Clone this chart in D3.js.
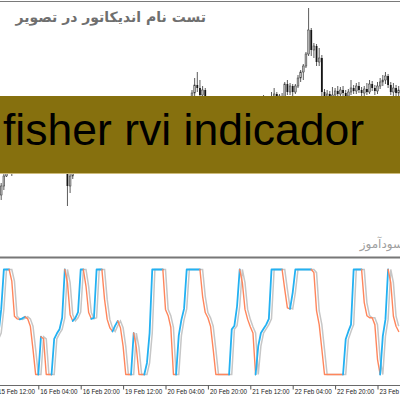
<!DOCTYPE html>
<html>
<head>
<meta charset="utf-8">
<script src="https://cdn.jsdelivr.net/npm/d3@7"></script>
<style>
    body { margin: 0; background: #fff; }
    svg { display: block; }
</style>
</head>
<body>
<div id="chart"></div>
<script>
// hourly candles, 15 Feb 12:00 .. 23 Feb 20:00 (weekend skipped)
const openPrices = [
    1918,1910,1905,1914,1924,1935,1942,1934,1940,1950,
    1953,1946,1949,1942,1937,1934,1931,1935,1941,1938,
    1933,1936,1942,1951,1960,1966,1972,1950,1914,1924,
    1932,1940,1946,1951,1956,1960,1963,1967,1971,1973,
    1969,1975,1980,1976,1982,1985,1981,1988,1990,1986,
    1992,1995,1991,1994,1998,1993,1996,2000,1997,2001,
    1996,2000,1995,1999,2002,1996,2000,1994,1997,2000,
    1995,1998,2000,2002,2000,2007,2015,2012,2005,2010,
    2002,1998,1992,1988,1982,1978,1974,1971,1975,1970,
    1973,1977,1981,1979,1984,1982,1986,1989,1987,1991,
    1994,1996,2000,1997,2000,2003,2006,2002,2004,2001,
    2016,2008,2014,2008,2014,2022,2028,2034,2046,2070,
    2050,2054,2038,2042,2008,2003,2006,2002,2005,2009,
    2006,2010,2007,2004,2008,2012,2009,2014,2010,2007,
    2011,2008,2016,2012,2009,2014,2018,2020,2024,2015,
    2008,2012,2007
];
const highPrices = [
    1922,1914,1917,1932,1939,1946,1945,1943,1954,1957,
    1956,1952,1951,1945,1940,1937,1939,1944,1945,1940,
    1939,1945,1955,1964,1970,1976,1974,1953,1928,1935,
    1943,1949,1954,1959,1963,1966,1970,1974,1977,1976,
    1978,1983,1983,1985,1988,1988,1991,1993,1993,1995,
    1998,1997,1997,2001,2000,1999,2003,2002,2003,2003,
    2002,2002,2001,2003,2003,2002,2001,2000,2002,2002,
    2001,2003,2004,2003,2010,2022,2028,2020,2014,2012,
    2003,2000,1995,1990,1985,1981,1977,1978,1977,1976,
    1980,1984,1984,1987,1987,1989,1992,1992,1994,1997,
    1999,2005,2002,2003,2008,2012,2008,2006,2007,2018,
    2020,2017,2016,2016,2025,2030,2036,2048,2092,2072,
    2057,2056,2052,2045,2011,2010,2009,2013,2012,2014,
    2013,2014,2010,2011,2020,2015,2017,2018,2013,2014,
    2017,2020,2019,2015,2018,2022,2025,2028,2026,2018,
    2017,2015,2014
];
const lowPrices = [
    1906,1898,1900,1910,1923,1930,1924,1930,1937,1947,
    1943,1942,1938,1934,1930,1928,1928,1932,1935,1929,
    1930,1933,1939,1948,1957,1963,1947,1894,1907,1921,
    1929,1937,1943,1948,1953,1957,1960,1964,1968,1966,
    1966,1972,1973,1974,1979,1978,1979,1985,1983,1984,
    1989,1988,1988,1991,1990,1990,1993,1994,1994,1993,
    1993,1992,1992,1996,1993,1993,1991,1991,1994,1992,
    1992,1995,1997,1996,1998,2004,2008,2003,2000,1996,
    1993,1989,1984,1979,1974,1970,1967,1968,1966,1967,
    1970,1974,1976,1976,1979,1979,1983,1984,1984,1988,
    1991,1993,1994,1994,1997,1999,1999,1999,1998,1999,
    2005,2005,2004,2006,2012,2018,2020,2032,2044,2044,
    2042,2034,2034,2004,1999,2000,1999,2000,2002,2003,
    2004,2003,2000,2001,2005,2006,2006,2007,2003,2004,
    2005,2006,2009,2005,2006,2011,2014,2016,2012,2005,
    2004,2003,2004
];
const closePrices = [
    1910,1905,1914,1924,1935,1942,1934,1940,1950,1953,
    1946,1949,1942,1937,1934,1931,1935,1941,1938,1933,
    1936,1942,1951,1960,1966,1972,1950,1914,1924,1932,
    1940,1946,1951,1956,1960,1963,1967,1971,1973,1969,
    1975,1980,1976,1982,1985,1981,1988,1990,1986,1992,
    1995,1991,1994,1998,1993,1996,2000,1997,2001,1996,
    2000,1995,1999,2002,1996,2000,1994,1997,2000,1995,
    1998,2000,2002,2000,2007,2015,2012,2005,2010,2002,
    1998,1992,1988,1982,1978,1974,1971,1975,1970,1973,
    1977,1981,1979,1984,1982,1986,1989,1987,1991,1994,
    1996,2000,1997,2000,2003,2006,2002,2004,2001,2016,
    2008,2014,2008,2014,2022,2028,2034,2046,2070,2050,
    2054,2038,2042,2008,2003,2006,2002,2005,2009,2006,
    2010,2007,2004,2008,2012,2009,2014,2010,2007,2011,
    2008,2016,2012,2009,2014,2018,2020,2024,2015,2008,
    2012,2007,2010
];

// fisher rvi main line and its signal
const fisherValues = [
    -0.33,-0.21,0.24,1,1,1,0.78,0.11,0.06,0.05,
    0.07,0.10,0.06,-0.08,-0.52,-1,-1,-0.28,-0.32,-1,
    -1,-1,-0.32,-0.22,-0.14,0.08,1,0.75,0.14,0.02,
    0.08,0.19,1,1,0.68,0.18,0.06,0.08,1,1,
    1,0.43,0.05,-0.11,-0.18,-0.07,0.02,-0.11,-0.46,-1,
    -1,-1,-0.21,-0.49,-1,-1,-1,-0.78,-0.21,1,
    1,1,1,1,0.24,0.12,-0.10,-1,-1,-0.26,
    0.04,0.25,1,1,1,1,1,1,0.49,0.18,
    0.08,-0.08,-0.52,-1,-1,-1,-1,-1,-1,-0.14,
    -0.07,0.30,1,0.75,0.24,0.05,-0.09,-0.21,-1,-0.46,
    -0.21,-0.13,-0.05,0.06,1,1,1,1,1,0.62,
    0.27,0.25,0.56,1,1,1,1,1,1,1,
    0.94,0.21,-0.05,-0.52,-1,-1,-1,-1,-1,-1,
    -1,-1,-0.33,-0.18,-0.05,1,1,1,1,0.37,
    0.12,0.08,0.08,-0.05,-0.71,-1,-0.27,0.05,1,0.75,
    0.11,-0.08,-0.18
];
const signalValues = [
    -0.45,-0.33,-0.21,0.24,1,1,1,0.78,0.11,0.06,
    0.05,0.07,0.10,0.06,-0.08,-0.52,-1,-1,-0.28,-0.32,
    -1,-1,-1,-0.32,-0.22,-0.14,0.08,1,0.75,0.14,
    0.02,0.08,0.19,1,1,0.68,0.18,0.06,0.08,1,
    1,1,0.43,0.05,-0.11,-0.18,-0.07,0.02,-0.11,-0.46,
    -1,-1,-1,-0.21,-0.49,-1,-1,-1,-0.78,-0.21,
    1,1,1,1,1,0.24,0.12,-0.10,-1,-1,
    -0.26,0.04,0.25,1,1,1,1,1,1,0.49,
    0.18,0.08,-0.08,-0.52,-1,-1,-1,-1,-1,-1,
    -0.14,-0.07,0.30,1,0.75,0.24,0.05,-0.09,-0.21,-1,
    -0.46,-0.21,-0.13,-0.05,0.06,1,1,1,1,1,
    0.62,0.27,0.25,0.56,1,1,1,1,1,1,
    1,0.94,0.21,-0.05,-0.52,-1,-1,-1,-1,-1,
    -1,-1,-1,-0.33,-0.18,-0.05,1,1,1,1,
    0.37,0.12,0.08,0.08,-0.05,-0.71,-1,-0.27,0.05,1,
    0.75,0.11,-0.08
];

const tickLabels = [
    '15 Feb 12:00', '16 Feb 04:00', '16 Feb 20:00', '19 Feb 12:00', '20 Feb 04:00',
    '20 Feb 20:00', '21 Feb 12:00', '22 Feb 04:00', '22 Feb 20:00', '23 Feb 12:00',
];

const bannerText = 'fisher rvi indicador';
const titleText = 'تست نام اندیکاتور در تصویر';
const watermarkText = 'سودآموز';

(function () {
    const width = 400, height = 400;
    const fmt = d3.utcFormat('%-d %b %H:%M');

    // bar times, one per hour, no saturday / sunday
    let barTimes = [];
    let t = Date.UTC(2024, 1, 15, 12);
    while (barTimes.length < closePrices.length) {
        let d = new Date(t);
        let wd = d.getUTCDay();
        if (wd !== 0 && wd !== 6) {
            barTimes.push(fmt(d));
        }
        t += 3600 * 1000;
    }

    let svg = d3.select('#chart')
                .append('svg')
                .attr('width', width)
                .attr('height', height)
                .attr('viewBox', `0 0 ${width} ${height}`);

    let defs = svg.append('defs');
    defs.append('clipPath').attr('id', 'clipTop')
        .append('rect').attr('x', 0).attr('y', 3).attr('width', width).attr('height', 253);
    defs.append('clipPath').attr('id', 'clipBottom')
        .append('rect').attr('x', 0).attr('y', 259).attr('width', width).attr('height', 126);

    let x = d3.scalePoint()
              .domain(barTimes)
              .range([-4.1, 398.7]);

    // price pane
    let yPrice = d3.scaleLinear()
                   .domain([1850, 2100])
                   .range([250, 0]);

    let candles = barTimes.map((time, i) => ({
        time: time,
        open: openPrices[i],
        high: highPrices[i],
        low: lowPrices[i],
        close: closePrices[i],
    }));

    let pricePane = svg.append('g').attr('clip-path', 'url(#clipTop)');

    pricePane.selectAll('.wick')
             .data(candles)
             .enter()
             .append('line')
             .attr('x1', d => x(d.time))
             .attr('x2', d => x(d.time))
             .attr('y1', d => yPrice(d.high))
             .attr('y2', d => yPrice(d.low))
             .attr('stroke', '#4a4a4a')
             .attr('stroke-width', 0.9);

    const bodyW = 1.8;
    pricePane.selectAll('.body')
             .data(candles)
             .enter()
             .append('rect')
             .attr('x', d => x(d.time) - bodyW / 2)
             .attr('y', d => yPrice(Math.max(d.open, d.close)))
             .attr('width', bodyW)
             .attr('height', d => Math.max(0.8, Math.abs(yPrice(d.open) - yPrice(d.close))))
             .attr('fill', d => d.close >= d.open ? '#b4b4b4' : '#151515')
             .attr('stroke', d => d.close >= d.open ? '#3a3a3a' : 'none')
             .attr('stroke-width', 0.5);

    // titles
    svg.append('text')
       .attr('x', 206)
       .attr('y', 22)
       .attr('text-anchor', 'end')
       .attr('font-family', 'DejaVu Sans, sans-serif')
       .attr('font-size', 14)
       .attr('font-weight', 'bold')
       .attr('fill', '#6f6f6f')
       .text(titleText);

    svg.append('text')
       .attr('x', 403)
       .attr('y', 248)
       .attr('text-anchor', 'end')
       .attr('font-family', 'DejaVu Sans, sans-serif')
       .attr('font-size', 12)
       .attr('fill', '#a0a0a0')
       .text(watermarkText);

    // banner
    svg.append('rect')
       .attr('x', 0)
       .attr('y', 96)
       .attr('width', width)
       .attr('height', 78)
       .attr('fill', '#86700e');
    svg.append('line')
       .attr('x1', 0).attr('x2', width)
       .attr('y1', 173.5).attr('y2', 173.5)
       .attr('stroke', '#cdbb7a')
       .attr('stroke-width', 1);
    svg.append('text')
       .attr('x', 3)
       .attr('y', 145)
       .attr('font-family', 'Liberation Sans, Arial, sans-serif')
       .attr('font-size', 44.5)
       .attr('fill', '#000')
       .text(bannerText);

    // borders
    svg.append('line')
       .attr('x1', 0).attr('x2', width)
       .attr('y1', 1.5).attr('y2', 1.5)
       .attr('stroke', '#7a7a7a')
       .attr('stroke-width', 1.2);
    svg.append('line')
       .attr('x1', 0).attr('x2', width)
       .attr('y1', 257.5).attr('y2', 257.5)
       .attr('stroke', '#777')
       .attr('stroke-width', 2.2);

    // indicator pane
    let yInd = d3.scaleLinear()
                 .domain([-1, 1])
                 .range([374.5, 269.5]);

    let indPane = svg.append('g').attr('clip-path', 'url(#clipBottom)');

    let line = d3.line()
                 .x(d => x(d.time))
                 .y(d => yInd(d.value));

    let signal = barTimes.map((time, i) => ({ time: time, value: signalValues[i] }));
    let fisher = barTimes.map((time, i) => ({ time: time, value: fisherValues[i] }));

    indPane.append('path')
           .datum(signal)
           .attr('d', line)
           .attr('fill', 'none')
           .attr('stroke', '#c6c6c6')
           .attr('stroke-width', 1.5);

    // split main line into rising (blue) and falling (orange) runs
    let runs = [];
    let colour = 'up';
    for (let i = 0; i < fisher.length - 1; i++) {
        let a = fisher[i].value, b = fisher[i + 1].value;
        if (b > a) colour = 'up';
        else if (b < a) colour = 'down';
        let last = runs[runs.length - 1];
        if (last && last.colour === colour) {
            last.points.push(fisher[i + 1]);
        } else {
            runs.push({ colour: colour, points: [fisher[i], fisher[i + 1]] });
        }
    }

    indPane.selectAll('.run')
           .data(runs)
           .enter()
           .append('path')
           .attr('d', d => line(d.points))
           .attr('fill', 'none')
           .attr('stroke', d => d.colour === 'up' ? '#23b1f2' : '#ff865c')
           .attr('stroke-width', d => d.colour === 'up' ? 1.8 : 1.4)
           .attr('stroke-linejoin', 'round')
           .attr('stroke-linecap', 'round');

    // time axis
    svg.append('line')
       .attr('x1', 0).attr('x2', width)
       .attr('y1', 385.5).attr('y2', 385.5)
       .attr('stroke', '#6a6a6a')
       .attr('stroke-width', 1);

    let axis = svg.append('g')
                  .attr('transform', 'translate(0, 385.5)')
                  .call(d3.axisBottom(x).tickValues(tickLabels).tickSize(4).tickSizeOuter(0));
    axis.select('.domain').remove();
    axis.selectAll('.tick line').attr('stroke', '#555');
    axis.selectAll('.tick text')
        .attr('x', 1.5)
        .attr('y', 4)
        .attr('dy', '0.71em')
        .attr('text-anchor', 'start')
        .attr('font-family', 'Liberation Sans, Arial, sans-serif')
        .attr('font-size', 6.3)
        .attr('fill', '#222');
})();
</script>
</body>
</html>
